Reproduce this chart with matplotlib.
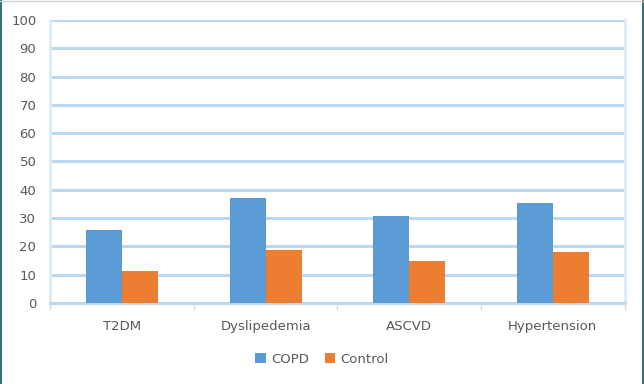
import numpy as np
import matplotlib
matplotlib.use('Agg')
import matplotlib.pyplot as plt
from matplotlib.lines import Line2D

categories = ['T2DM', 'Dyslipedemia', 'ASCVD', 'Hypertension']
copd = [25.8, 37.1, 30.7, 35.3]
control = [11.3, 18.8, 14.8, 18.0]
yticks = [0, 10, 20, 30, 40, 50, 60, 70, 80, 90, 100]

def main():
    fig = plt.figure(figsize=(6.44, 3.84), dpi=100)
    ax = fig.add_axes([0.078, 0.211, 0.892, 0.737])

    x = np.arange(len(categories))
    w = 0.25
    ax.bar(x - w / 2, copd, w, color='#5B9BD5', label='COPD', zorder=3)
    ax.bar(x + w / 2, control, w, color='#ED7D31', label='Control', zorder=3)

    ax.set_xlim(-0.5, len(categories) - 0.5)
    ax.set_ylim(0, 100)
    ax.set_yticks(yticks)
    ax.set_xticks(x)
    ax.set_xticklabels(categories)
    ax.yaxis.grid(True, color='#BDD7EE', linewidth=2.2, zorder=0)
    ax.set_axisbelow(True)

    for side in ['top']:
        ax.spines[side].set_visible(False)
    for side in ['left', 'right']:
        ax.spines[side].set_color('#DDEBF7')
        ax.spines[side].set_linewidth(2)
    ax.spines['bottom'].set_color('#BDD7EE')
    ax.spines['bottom'].set_linewidth(2.2)

    ax.tick_params(axis='y', length=0, pad=10, labelsize=9.5, labelcolor='#595959')
    ax.tick_params(axis='x', length=0, pad=12, labelsize=9.5, labelcolor='#595959')
    # category separator ticks
    for b in np.arange(-0.5, len(categories), 1.0):
        ax.plot([b, b], [0, -2], color='#D9D9D9', linewidth=1, clip_on=False, zorder=4)

    fig.legend(loc='center', bbox_to_anchor=(0.5, 0.065), ncol=2, frameon=False,
               fontsize=9.5, labelcolor='#595959', handlelength=0.8, handleheight=0.8,
               handletextpad=0.4, columnspacing=1.2)

    # outer frame
    fig.add_artist(Line2D([0.002, 0.002], [0, 1], color='#31737A', linewidth=1.5))
    fig.add_artist(Line2D([0.998, 0.998], [0, 1], color='#31737A', linewidth=1.5))
    fig.add_artist(Line2D([0, 1], [0.997, 0.997], color='#D0D0D0', linewidth=1))

    fig.savefig('out.png', dpi=100)

if __name__ == "__main__":
    main()
